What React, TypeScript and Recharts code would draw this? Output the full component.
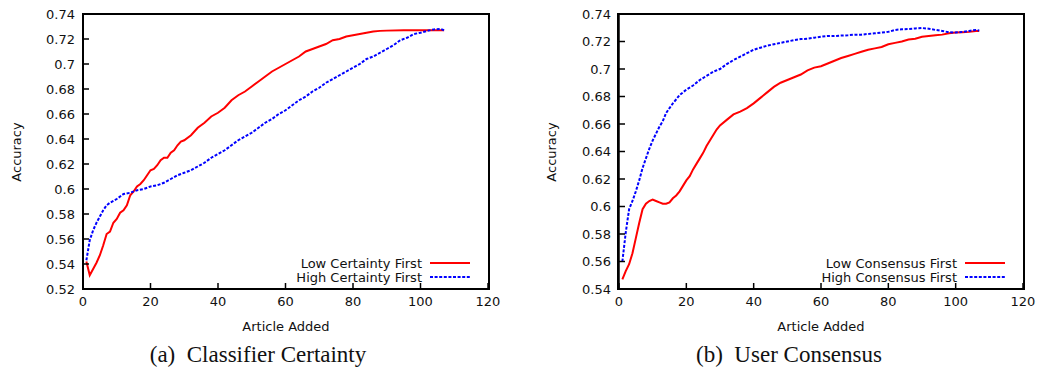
import { LineChart, Line, XAxis, YAxis } from "recharts";

// (a) Classifier Certainty
const lowCertX = [1, 2, 3, 4, 5, 6, 7, 8, 9, 10, 11, 12, 13, 14, 15, 16, 17, 18, 19, 20, 21, 22, 23, 24, 25, 26, 27, 28, 29, 30,
  32, 34, 36, 38, 40, 42, 44, 46, 48, 50, 52, 54, 56, 58, 60, 62, 64, 66, 68, 70, 72, 74, 76, 78, 80, 82, 84, 86, 88, 90, 95, 100, 107];
const lowCertY = [0.542, 0.531, 0.536, 0.541, 0.547, 0.555, 0.564, 0.566, 0.573, 0.576, 0.581, 0.583, 0.587, 0.595, 0.598,
  0.602, 0.604, 0.607, 0.611, 0.615, 0.616, 0.619, 0.623, 0.625, 0.625, 0.629, 0.631, 0.635, 0.638, 0.639,
  0.643, 0.649, 0.653, 0.658, 0.661, 0.665, 0.671, 0.675, 0.678, 0.682, 0.686, 0.690, 0.694, 0.697, 0.700,
  0.703, 0.706, 0.710, 0.712, 0.714, 0.716, 0.719, 0.720, 0.722, 0.723, 0.724, 0.725, 0.726, 0.7265, 0.7267,
  0.727, 0.727, 0.727];

const highCertX = [1, 2, 3, 4, 5, 6, 7, 8, 10, 12, 14, 16, 18, 20, 22, 24, 26, 28, 30, 32, 34, 36, 38, 40, 42, 44, 46, 48,
  50, 52, 54, 56, 58, 60, 62, 64, 66, 68, 70, 72, 74, 76, 78, 80, 82, 84, 86, 88, 90, 92, 94, 96, 98, 100, 102, 104, 106, 107];
const highCertY = [0.543, 0.559, 0.567, 0.573, 0.578, 0.583, 0.587, 0.589,
  0.592, 0.596, 0.597, 0.599, 0.600, 0.602, 0.603, 0.605, 0.608, 0.611,
  0.613, 0.615, 0.618, 0.621, 0.625, 0.628, 0.631, 0.635, 0.639, 0.642,
  0.645, 0.649, 0.653, 0.656, 0.660, 0.663, 0.667, 0.671, 0.674, 0.678,
  0.681, 0.685, 0.688, 0.691, 0.694, 0.697, 0.700, 0.704, 0.706, 0.709,
  0.712, 0.715, 0.719, 0.721, 0.724, 0.725, 0.7265, 0.7277, 0.728, 0.727];

// (b) User Consensus
const lowConsX = [1, 2, 3, 4, 5, 6, 7, 8, 9, 10, 11, 12, 13, 14, 15, 16, 17, 18, 19, 20, 21, 22, 23, 24, 25, 26, 27, 28, 29, 30,
  32, 34, 36, 38, 40, 42, 44, 46, 48, 50, 52, 54, 56, 58, 60, 62, 64, 66, 68, 70, 72, 74, 76, 78, 80, 82, 84, 86, 88, 90,
  92, 94, 96, 98, 100, 102, 104, 106, 107];
const lowConsY = [0.547, 0.553, 0.558, 0.566, 0.577, 0.588, 0.598, 0.602, 0.604, 0.605,
  0.604, 0.603, 0.602, 0.602, 0.603, 0.606, 0.608, 0.611, 0.615, 0.619,
  0.622, 0.627, 0.631, 0.635, 0.639, 0.644, 0.648, 0.652, 0.656, 0.659,
  0.663, 0.667, 0.669, 0.6715, 0.675, 0.679, 0.683, 0.687, 0.690, 0.692,
  0.694, 0.696, 0.699, 0.701, 0.702, 0.704, 0.706, 0.708, 0.7095, 0.711,
  0.7125, 0.714, 0.715, 0.716, 0.718, 0.719, 0.720, 0.7215, 0.722, 0.7235,
  0.724, 0.7245, 0.725, 0.726, 0.7265, 0.7267, 0.727, 0.7277, 0.7277];

const highConsX = [1, 2, 3, 4, 5, 6, 7, 8, 9, 10, 11, 12, 13, 14, 15, 16, 17, 18,
  20, 22, 24, 26, 28, 30, 32, 34, 36, 38, 40, 42, 44, 46, 48, 50, 52, 54, 56, 58, 60, 62, 64, 66, 68, 70, 72, 74, 76, 78,
  80, 82, 84, 86, 88, 90, 92, 94, 96, 98, 100, 102, 104, 106, 107];
const highConsY = [0.560, 0.581, 0.598, 0.604, 0.611, 0.619, 0.628, 0.635, 0.642, 0.648,
  0.653, 0.658, 0.662, 0.668, 0.6715, 0.675, 0.678, 0.681,
  0.685, 0.688, 0.692, 0.695, 0.698, 0.700, 0.7035, 0.7065, 0.709, 0.7115,
  0.714, 0.7155, 0.717, 0.718, 0.719, 0.720, 0.721, 0.7218, 0.722, 0.7228,
  0.7235, 0.724, 0.724, 0.7243, 0.7245, 0.725, 0.725, 0.7255, 0.726, 0.7265,
  0.727, 0.7284, 0.7289, 0.7291, 0.7295, 0.7298, 0.7293, 0.7284, 0.7277, 0.7267,
  0.7265, 0.727, 0.7277, 0.7284, 0.728];

const xTicks = [0, 20, 40, 60, 80, 100, 120];
const yTicksA = [0.52, 0.54, 0.56, 0.58, 0.6, 0.62, 0.64, 0.66, 0.68, 0.7, 0.72, 0.74];
const yTicksB = [0.54, 0.56, 0.58, 0.6, 0.62, 0.64, 0.66, 0.68, 0.7, 0.72, 0.74];

const toPoints = (xs: number[], ys: number[]) => xs.map((x, i) => ({ x, y: ys[i] }));

const SANS = "DejaVu Sans";
const RED = "#ff0000";
const BLUE = "#0000ff";
const DASH = "3 1.6";

const tickStyle = { fill: "#111", fontSize: 13, fontFamily: SANS };
const fmt = (v: number) => String(Number(v.toFixed(2)));

interface PanelProps {
  width: number;
  margin: { top: number; right: number; bottom: number; left: number };
  yTicks: number[];
  lowPts: { x: number; y: number }[];
  highPts: { x: number; y: number }[];
}

const Panel = ({ width, margin, yTicks, lowPts, highPts }: PanelProps) => (
  <LineChart width={width} height={320} margin={margin}>
    <XAxis xAxisId="b" dataKey="x" type="number" domain={[0, 120]} ticks={xTicks} height={30}
      tick={tickStyle} tickSize={-6} tickMargin={14} stroke="#000" strokeWidth={1.5} />
    <YAxis yAxisId="l" type="number" domain={[yTicks[0], yTicks[yTicks.length - 1]]} ticks={yTicks} width={60}
      tickFormatter={fmt} tick={tickStyle} tickSize={-6} tickMargin={14} stroke="#000" strokeWidth={1.5} />
    <Line xAxisId="b" yAxisId="l" data={lowPts} dataKey="y" type="linear" stroke={RED}
      strokeWidth={2} dot={false} isAnimationActive={false} />
    <Line xAxisId="b" yAxisId="l" data={highPts} dataKey="y" type="linear" stroke={BLUE}
      strokeWidth={2} strokeDasharray={DASH} dot={false} isAnimationActive={false} />
  </LineChart>
);

const abs = (left: number, top: number, extra: React.CSSProperties = {}): React.CSSProperties => ({
  position: "absolute",
  left,
  top,
  transform: "translate(-50%, -50%)",
  whiteSpace: "nowrap",
  ...extra,
});

// legend block: text right-aligned at textRight, sample line to its right
const LegendBox = ({ textRight, top, low, high }: { textRight: number; top: number; low: string; high: string }) => {
  const rows = [
    { label: low, color: RED, dash: undefined },
    { label: high, color: BLUE, dash: DASH },
  ];
  return (
    <svg style={{ position: "absolute", left: textRight - 180, top }} width={240} height={30}>
      {rows.map((r, i) => (
        <g key={r.label}>
          <text x={180} y={8 + i * 14} textAnchor="end" dominantBaseline="central"
            fontSize={13} fontFamily={SANS} fill="#111">{r.label}</text>
          <line x1={188} x2={228} y1={8 + i * 14} y2={8 + i * 14} stroke={r.color}
            strokeWidth={2} strokeDasharray={r.dash} />
        </g>
      ))}
    </svg>
  );
};

export default function App() {
  const sans: React.CSSProperties = { fontFamily: SANS, fontSize: 13, color: "#111" };
  const serif: React.CSSProperties = { fontFamily: "Liberation Serif", fontSize: 23, color: "#111" };
  const frame: React.CSSProperties = {
    position: "absolute", top: 13, width: 408, height: 277, border: "2px solid #000",
    boxSizing: "border-box", pointerEvents: "none",
  };
  return (
    <div style={{ position: "absolute", left: 0, top: 0, width: 1039, height: 373, background: "#fff" }}>
      <div style={{ position: "absolute", left: 0, top: 0 }}>
        <Panel width={520} margin={{ top: 14, right: 32, bottom: 1, left: 23 }} yTicks={yTicksA}
          lowPts={toPoints(lowCertX, lowCertY)} highPts={toPoints(highCertX, highCertY)} />
      </div>
      <div style={{ position: "absolute", left: 520, top: 0 }}>
        <Panel width={519} margin={{ top: 14, right: 16, bottom: 1, left: 39 }} yTicks={yTicksB}
          lowPts={toPoints(lowConsX, lowConsY)} highPts={toPoints(highConsX, highConsY)} />
      </div>
      <div style={{ ...frame, left: 82 }} />
      <div style={{ ...frame, left: 617 }} />
      <LegendBox textRight={422} top={255} low="Low Certainty First" high="High Certainty First" />
      <LegendBox textRight={957} top={255} low="Low Consensus First" high="High Consensus First" />
      <div style={abs(16, 152, { ...sans, transform: "translate(-50%, -50%) rotate(-90deg)" })}>Accuracy</div>
      <div style={abs(551, 152, { ...sans, transform: "translate(-50%, -50%) rotate(-90deg)" })}>Accuracy</div>
      <div style={abs(286, 326, sans)}>Article Added</div>
      <div style={abs(821, 326, sans)}>Article Added</div>
      <div style={abs(258, 355, serif)}>(a)&nbsp; Classifier Certainty</div>
      <div style={abs(789, 355, serif)}>(b)&nbsp; User Consensus</div>
    </div>
  );
}
